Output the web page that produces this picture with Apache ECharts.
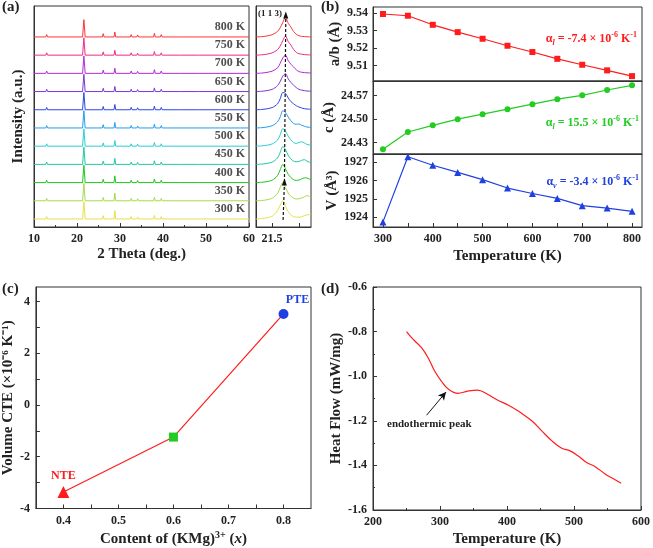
<!DOCTYPE html>
<html><head><meta charset="utf-8">
<script src="https://cdn.jsdelivr.net/npm/echarts@6/dist/echarts.min.js"></script>
<style>html,body{margin:0;padding:0;background:#fff}#c{width:653px;height:548px}</style>
</head><body><div id="c"></div>
<script>
// ---------- DATA ----------
// (a) XRD patterns
const temps = [300, 350, 400, 450, 500, 550, 600, 650, 700, 750, 800];
const peakPos = [12.95, 21.6, 26.1, 28.8, 32.6, 34.1, 38.0, 39.6, 44.2, 48.4, 53.6];
const peakInt = [0.13, 0.95, 0.18, 0.30, 0.13, 0.11, 0.20, 0.13, 0.05, 0.04, 0.04];
const peak288 = [0.46, 0.42, 0.37, 0.33, 0.31, 0.30, 0.29, 0.28, 0.28, 0.27, 0.27];
// (a) zoom around (1 1 3)
const zoomX = [21.44, 21.47, 21.50, 21.52, 21.53, 21.54, 21.55, 21.56, 21.57, 21.58, 21.59, 21.60, 21.61, 21.62, 21.63, 21.645];
const zoomInt = [
  [0, 0.04, 0.15, 0.45, 0.75, 1.00, 0.70, 0.40, 0.22, 0.13, 0.10, 0.10, 0.12, 0.18, 0.22, 0.28],
  [0, 0.03, 0.14, 0.40, 0.72, 1.00, 0.72, 0.42, 0.25, 0.15, 0.10, 0.11, 0.15, 0.22, 0.28, 0.20],
  [0, 0.03, 0.13, 0.38, 0.70, 1.00, 0.75, 0.45, 0.28, 0.16, 0.12, 0.14, 0.20, 0.26, 0.25, 0.15],
  [0, 0.03, 0.12, 0.35, 0.65, 0.98, 0.80, 0.50, 0.30, 0.18, 0.14, 0.16, 0.22, 0.26, 0.18, 0.08],
  [0, 0.03, 0.12, 0.33, 0.62, 0.97, 0.82, 0.55, 0.35, 0.20, 0.15, 0.20, 0.24, 0.18, 0.10, 0.05],
  [0, 0.03, 0.12, 0.33, 0.60, 0.95, 0.85, 0.60, 0.40, 0.25, 0.20, 0.22, 0.15, 0.10, 0.05, 0.03],
  [0, 0.03, 0.12, 0.32, 0.60, 0.95, 0.90, 0.65, 0.45, 0.33, 0.22, 0.15, 0.10, 0.06, 0.04, 0.03],
  [0, 0.03, 0.12, 0.32, 0.55, 0.85, 0.98, 0.70, 0.50, 0.35, 0.22, 0.12, 0.08, 0.05, 0.03, 0.02],
  [0, 0.03, 0.12, 0.30, 0.55, 0.85, 1.00, 0.70, 0.50, 0.35, 0.20, 0.10, 0.06, 0.04, 0.03, 0.02],
  [0, 0.03, 0.12, 0.30, 0.50, 0.80, 1.05, 0.75, 0.55, 0.32, 0.15, 0.08, 0.05, 0.03, 0.02, 0.01],
  [0, 0.03, 0.12, 0.30, 0.50, 0.80, 1.10, 0.75, 0.55, 0.30, 0.15, 0.07, 0.03, 0.02, 0.01, 0]
];
const shiftX = [21.541, 21.546, 21.551];
const shiftY = [-0.05, 2.03, 11.2];
// (b) lattice parameters
const bTemps = [300, 350, 400, 450, 500, 550, 600, 650, 700, 750, 800];
const abVals = [9.5396, 9.5386, 9.5334, 9.5292, 9.5254, 9.5214, 9.5178, 9.5139, 9.5105, 9.5073, 9.5040];
const cVals = [24.4103, 24.4619, 24.4818, 24.5000, 24.5149, 24.5298, 24.5447, 24.5596, 24.5712, 24.5870, 24.6010];
const vVals = [1923.73, 1927.31, 1926.84, 1926.45, 1926.05, 1925.59, 1925.29, 1925.02, 1924.62, 1924.49, 1924.31];
// (c) volume CTE
const cteX = [0.4, 0.6, 0.8];
const cteY = [-3.36, -1.24, 3.52];
const cteTags = ['NTE', '', 'PTE'];
// (d) DSC
const dscT = [250, 260, 272.4, 282.2, 292, 302, 311.8, 326.5, 341.3, 356, 370.9, 385.7, 402.9, 420.2, 437.4, 452.2, 467, 481.7, 494.1, 506.4, 518.7, 531.1, 545.9, 558.1, 570.4];
const dscH = [-0.80, -0.835, -0.872, -0.917, -0.977, -1.022, -1.056, -1.077, -1.067, -1.062, -1.081, -1.107, -1.131, -1.163, -1.201, -1.246, -1.290, -1.323, -1.335, -1.358, -1.387, -1.405, -1.437, -1.459, -1.480];
const arrowFrom = [280, -1.175], arrowTo = [309, -1.071];

// ---------- STYLE ----------
const F = 'Liberation Serif';
const traceColors = ['#e8e04a', '#a6dc48', '#1cc81c', '#20c8a8', '#2ccfd2', '#249cf0', '#2a48e6', '#7a38d8', '#b22ad8', '#f22a8a', '#ff3434'];
const RED = '#ff1c1c', GREEN = '#22cc22', BLUE = '#2040e0';
const txt = { fontFamily: F, fontWeight: 'bold', color: '#222', fontSize: 12 };
const nameTxt = { fontFamily: F, fontWeight: 'bold', color: '#222', fontSize: 15 };
const axLine = { show: true, onZero: false, lineStyle: { color: '#333', width: 1 } };
const tickIn = { show: true, inside: true, length: 4, lineStyle: { color: '#333' } };
const gridBase = { show: true, borderColor: '#333', borderWidth: 1, backgroundColor: 'transparent' };

const grids = [
  Object.assign({ left: 34, top: 6, width: 215, height: 221 }, gridBase),
  Object.assign({ left: 256, top: 6, width: 55, height: 221 }, gridBase),
  Object.assign({ left: 373, top: 7, width: 269, height: 74 }, gridBase),
  Object.assign({ left: 373, top: 81, width: 269, height: 73 }, gridBase),
  Object.assign({ left: 373, top: 154, width: 269, height: 73 }, gridBase),
  Object.assign({ left: 34, top: 287, width: 277, height: 224 }, gridBase),
  Object.assign({ left: 373, top: 287, width: 270, height: 224 }, gridBase)
];

const hiddenX = (gi, min, max) => ({ type: 'value', gridIndex: gi, min, max, axisLine: axLine, axisTick: { show: false }, axisLabel: { show: false }, splitLine: { show: false } });

const xAxes = [
  { type: 'value', gridIndex: 0, min: 10, max: 60, interval: 10, axisLine: axLine, axisTick: tickIn,
    minorTick: { show: true, splitNumber: 2, length: 2, lineStyle: { color: '#333' } },
    axisLabel: Object.assign({ margin: 6 }, txt), splitLine: { show: false },
    name: '2 Theta (deg.)', nameLocation: 'middle', nameGap: 20, nameTextStyle: nameTxt },
  { type: 'value', gridIndex: 1, min: 21.44, max: 21.645, axisLine: axLine,
    axisTick: Object.assign({ customValues: [21.5, 21.6] }, tickIn),
    axisLabel: Object.assign({ customValues: [21.5], margin: 6, formatter: v => v.toFixed(1) }, txt), splitLine: { show: false } },
  hiddenX(2, 280, 820),
  hiddenX(3, 280, 820),
  { type: 'value', gridIndex: 4, min: 280, max: 820, axisLine: axLine,
    axisTick: Object.assign({ customValues: [300, 350, 400, 450, 500, 550, 600, 650, 700, 750, 800] }, tickIn),
    axisLabel: Object.assign({ customValues: [300, 400, 500, 600, 700, 800], margin: 6 }, txt), splitLine: { show: false },
    name: 'Temperature (K)', nameLocation: 'middle', nameGap: 22, nameTextStyle: nameTxt },
  { type: 'value', gridIndex: 5, min: 0.35, max: 0.85, axisLine: axLine,
    axisTick: Object.assign({ customValues: [0.4, 0.45, 0.5, 0.55, 0.6, 0.65, 0.7, 0.75, 0.8] }, tickIn),
    axisLabel: Object.assign({ customValues: [0.4, 0.5, 0.6, 0.7, 0.8], margin: 6, formatter: v => v.toFixed(1) }, txt), splitLine: { show: false },
    name: '{n|Content of (KMg)}{s|3+}{n| (}{i|x}{n|)}', nameLocation: 'middle', nameGap: 22,
    nameTextStyle: Object.assign({}, nameTxt, { rich: {
      n: { fontFamily: F, fontWeight: 'bold', fontSize: 15, color: '#222', lineHeight: 18 },
      s: { fontFamily: F, fontWeight: 'bold', fontSize: 10, color: '#222', verticalAlign: 'top', lineHeight: 18 },
      i: { fontFamily: F, fontWeight: 'bold', fontStyle: 'italic', fontSize: 15, color: '#222', lineHeight: 18 } } }) },
  { type: 'value', gridIndex: 6, min: 200, max: 600, interval: 100, axisLine: axLine, axisTick: tickIn,
    minorTick: { show: true, splitNumber: 2, length: 2, lineStyle: { color: '#333' } },
    axisLabel: Object.assign({ margin: 6 }, txt), splitLine: { show: false },
    name: 'Temperature (K)', nameLocation: 'middle', nameGap: 22, nameTextStyle: nameTxt }
];

const yAxes = [
  { type: 'value', gridIndex: 0, min: -0.44, max: 11.7, axisLine: axLine, axisTick: { show: false }, axisLabel: { show: false }, splitLine: { show: false },
    name: 'Intensity (a.u.)', nameLocation: 'middle', nameGap: 8, nameTextStyle: nameTxt },
  { type: 'value', gridIndex: 1, min: -0.44, max: 11.7, axisLine: axLine, axisTick: { show: false }, axisLabel: { show: false }, splitLine: { show: false } },
  { type: 'value', gridIndex: 2, min: 9.5012, max: 9.5436, axisLine: axLine,
    axisTick: Object.assign({ customValues: [9.51, 9.52, 9.53, 9.54] }, tickIn),
    axisLabel: Object.assign({ customValues: [9.51, 9.52, 9.53, 9.54], margin: 5, formatter: v => v.toFixed(2) }, txt), splitLine: { show: false },
    name: 'a/b (Å)', nameLocation: 'middle', nameGap: 27, nameTextStyle: nameTxt },
  { type: 'value', gridIndex: 3, min: 24.3963, max: 24.6138, axisLine: axLine,
    axisTick: Object.assign({ customValues: [24.43, 24.50, 24.57] }, tickIn),
    axisLabel: Object.assign({ customValues: [24.43, 24.50, 24.57], margin: 5, formatter: v => v.toFixed(2) }, txt), splitLine: { show: false },
    name: 'c (Å)', nameLocation: 'middle', nameGap: 33, nameTextStyle: nameTxt },
  { type: 'value', gridIndex: 4, min: 1923.45, max: 1927.46, axisLine: axLine,
    axisTick: Object.assign({ customValues: [1924, 1925, 1926, 1927] }, tickIn),
    axisLabel: Object.assign({ customValues: [1924, 1925, 1926, 1927], margin: 5, formatter: v => String(Math.round(v)) }, txt), splitLine: { show: false },
    name: 'V (Å³)', nameLocation: 'middle', nameGap: 27, nameTextStyle: nameTxt },
  { type: 'value', gridIndex: 5, min: -4, max: 4.56, axisLine: axLine,
    axisTick: Object.assign({ customValues: [-4, -3, -2, -1, 0, 1, 2, 3, 4] }, tickIn),
    axisLabel: Object.assign({ customValues: [-4, -2, 0, 2, 4], margin: 6 }, txt), splitLine: { show: false },
    name: 'Volume CTE (×10⁻⁶ K⁻¹)', nameLocation: 'middle', nameGap: 16, nameTextStyle: nameTxt },
  { type: 'value', gridIndex: 6, min: -1.6, max: -0.6, interval: 0.2, axisLine: axLine, axisTick: tickIn,
    minorTick: { show: true, splitNumber: 2, length: 2, lineStyle: { color: '#333' } },
    axisLabel: Object.assign({ margin: 6, formatter: v => v.toFixed(1) }, txt), splitLine: { show: false },
    name: 'Heat Flow (mW/mg)', nameLocation: 'middle', nameGap: 28, nameTextStyle: nameTxt }
];

const series = [];
// (a) main XRD traces
temps.forEach((t, i) => {
  const off = i;
  const pts = [[10, off]];
  peakPos.forEach((p, k) => {
    const h = (k === 3) ? peak288[i] : peakInt[k];
    const w = (k === 1) ? 0.3 : 0.2;
    pts.push([p - w, off], [p, off + h], [p + w, off]);
  });
  pts.push([60, off]);
  series.push({ type: 'line', xAxisIndex: 0, yAxisIndex: 0, data: pts, showSymbol: false, symbol: 'none',
    lineStyle: { color: traceColors[i], width: 1 }, silent: true, animation: false });
  // zoom trace
  series.push({ type: 'line', xAxisIndex: 1, yAxisIndex: 1, data: zoomX.map((x, j) => [x, off + zoomInt[i][j]]),
    smooth: 0.3, symbol: 'none', lineStyle: { color: traceColors[i], width: 1 }, silent: true, animation: false });
});
// temperature labels
series.push({ type: 'scatter', xAxisIndex: 0, yAxisIndex: 0, symbolSize: 0.1, animation: false, silent: true,
  data: temps.map((t, i) => ({ name: t + ' K', value: [59.1, i + 0.55] })),
  label: { show: true, position: 'left', distance: 0, formatter: p => p.name, fontFamily: F, fontWeight: 'bold', fontSize: 12, color: '#222' } });
// dashed shift line
series.push({ type: 'line', xAxisIndex: 1, yAxisIndex: 1, data: [], silent: true, animation: false,
  markLine: { silent: true, symbol: ['none', 'triangle'], symbolSize: [5, 7], label: { show: false },
    lineStyle: { color: '#111', type: [3, 2], width: 1.2 },
    data: [
      [{ coord: [shiftX[0], shiftY[0]] }, { coord: [shiftX[1], shiftY[1]] }],
      [{ coord: [shiftX[1], shiftY[1]] }, { coord: [shiftX[2], shiftY[2]] }]
    ] } });
// (b)
series.push({ type: 'line', xAxisIndex: 2, yAxisIndex: 2, data: bTemps.map((t, i) => [t, abVals[i]]), symbol: 'rect', symbolSize: 6,
  itemStyle: { color: RED }, lineStyle: { color: RED, width: 1.2 }, animation: false });
series.push({ type: 'line', xAxisIndex: 3, yAxisIndex: 3, data: bTemps.map((t, i) => [t, cVals[i]]), symbol: 'circle', symbolSize: 6,
  itemStyle: { color: GREEN }, lineStyle: { color: GREEN, width: 1.2 }, animation: false });
series.push({ type: 'line', xAxisIndex: 4, yAxisIndex: 4, data: bTemps.map((t, i) => [t, vVals[i]]), symbol: 'triangle', symbolSize: 7,
  itemStyle: { color: BLUE }, lineStyle: { color: BLUE, width: 1.2 }, animation: false });
// (c)
const cSym = ['triangle', 'rect', 'circle'];
const cSize = [12, 9, 10];
const cCol = [RED, GREEN, BLUE];
series.push({ type: 'line', xAxisIndex: 5, yAxisIndex: 5, animation: false,
  lineStyle: { color: RED, width: 1.2 },
  data: cteX.map((x, i) => ({ value: [x, cteY[i]], symbol: cSym[i], symbolSize: cSize[i], itemStyle: { color: cCol[i] },
    label: { show: !!cteTags[i], formatter: cteTags[i], position: 'top', distance: i === 0 ? 4 : 3, offset: i === 2 ? [14, 0] : [0, 0],
      fontFamily: F, fontWeight: 'bold', fontSize: 12, color: cCol[i] } })) });
// (d)
series.push({ type: 'line', xAxisIndex: 6, yAxisIndex: 6, data: dscT.map((t, i) => [t, dscH[i]]), smooth: 0.4, symbol: 'none',
  lineStyle: { color: RED, width: 1.2 }, animation: false,
  markLine: { silent: true, symbol: ['none', 'arrow'], symbolSize: [6, 8], label: { show: false },
    lineStyle: { color: '#111', type: 'solid', width: 1 },
    data: [[{ coord: arrowFrom }, { coord: arrowTo }]] } });

const richAlpha = (col) => ({
  a: { fontFamily: F, fontWeight: 'bold', fontSize: 12, fill: col, lineHeight: 16 },
  s: { fontFamily: F, fontWeight: 'bold', fontStyle: 'italic', fontSize: 8, fill: col, verticalAlign: 'bottom', lineHeight: 16 },
  p: { fontFamily: F, fontWeight: 'bold', fontSize: 8, fill: col, verticalAlign: 'top', lineHeight: 16 }
});
const panelLbl = (t, l, tp) => ({ type: 'text', left: l, top: tp, style: { text: t, fontFamily: F, fontWeight: 'bold', fontSize: 15, fill: '#222' } });

const option = {
  animation: false,
  backgroundColor: '#fff',
  grid: grids, xAxis: xAxes, yAxis: yAxes, series,
  graphic: [
    panelLbl('(a)', 2, 0), panelLbl('(b)', 321, 0), panelLbl('(c)', 2, 282), panelLbl('(d)', 321, 282),
    { type: 'text', left: 258, top: 9, style: { text: '(1 1 3)', fontFamily: F, fontWeight: 'bold', fontSize: 9, fill: '#222' } },
    { type: 'text', right: 16, top: 31, style: { text: '{a|α}{s|l}{a| = -7.4 × 10}{p|-6}{a| K}{p|-1}', rich: richAlpha(RED) } },
    { type: 'text', right: 14, top: 115, style: { text: '{a|α}{s|l}{a| = 15.5 × 10}{p|-6}{a| K}{p|-1}', rich: richAlpha(GREEN) } },
    { type: 'text', right: 14, top: 174, style: { text: '{a|α}{s|v}{a| = -3.4 × 10}{p|-6}{a| K}{p|-1}', rich: richAlpha(BLUE) } },
    { type: 'text', left: 387, top: 419, style: { text: 'endothermic peak', fontFamily: F, fontWeight: 'bold', fontSize: 11, fill: '#222' } }
  ]
};
const chart = echarts.init(document.getElementById('c'), null, { renderer: 'canvas' });
chart.setOption(option);
</script>
</body></html>
